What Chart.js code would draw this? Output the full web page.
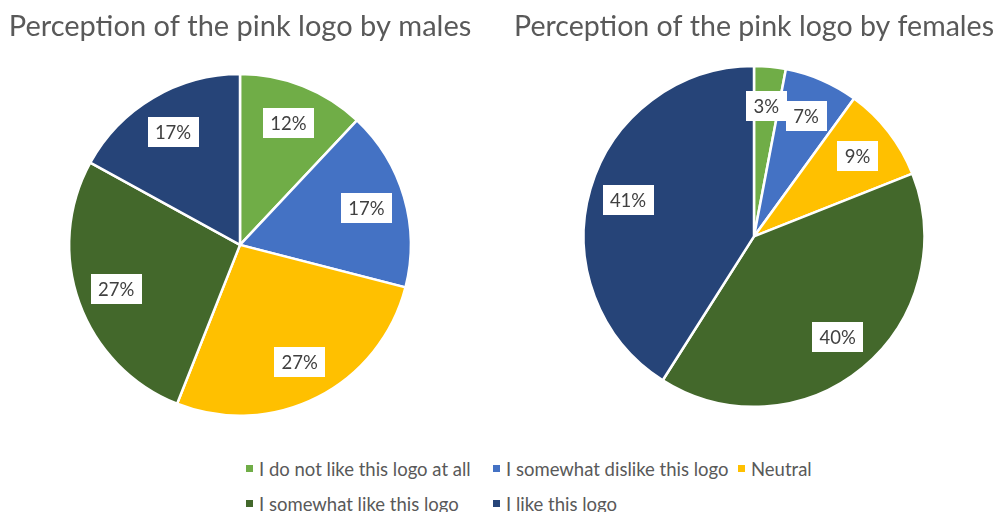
<!DOCTYPE html>
<html>
<head>
<meta charset="utf-8">
<title>Perception of the pink logo</title>
<script src="https://cdn.jsdelivr.net/npm/chart.js@4.4.1/dist/chart.umd.min.js"></script>
<style>
  html, body { margin: 0; padding: 0; background: #fff; }
  #wrap { position: relative; width: 998px; height: 512px; overflow: hidden; font-family: Lato, "Open Sans", sans-serif; }
  canvas { position: absolute; top: 0; }
  #malesChart { left: 0; }
  #femalesChart { left: 514px; }
  #legend { position: absolute; left: 246px; top: 451px; display: grid; grid-template-columns: 247px 245px auto; }
  .item { display: flex; align-items: center; height: 35px; color: #595959; font-size: 18.5px; white-space: nowrap; }
  .swatch { width: 7px; height: 7px; margin-right: 6px; flex: none; }
</style>
</head>
<body>
<div id="wrap">
  <!-- the pie fills whatever is left below the title -->
  <canvas id="malesChart" width="480" height="417"></canvas>
  <canvas id="femalesChart" width="480" height="408"></canvas>
  <div id="legend"></div>
</div>
<script>
  const categories = [
    'I do not like this logo at all',
    'I somewhat dislike this logo',
    'Neutral',
    'I somewhat like this logo',
    'I like this logo'
  ];
  const malesPct = [12, 17, 27, 27, 17];
  const femalesPct = [3, 7, 9, 40, 41];
  const sliceColors = ['#70AD47', '#4472C4', '#FFC000', '#43682B', '#264478'];

  const FONT = 'Lato, "Open Sans", sans-serif';

  // white boxed percentage labels inside each slice
  const boxedLabels = {
    id: 'boxedLabels',
    afterDatasetsDraw(chart, args, opts) {
      const ctx = chart.ctx;
      const meta = chart.getDatasetMeta(0);
      const values = chart.data.datasets[0].data;
      ctx.save();
      ctx.font = '18.5px ' + FONT;
      ctx.textAlign = 'center';
      ctx.textBaseline = 'middle';
      meta.data.forEach((arc, i) => {
        const p = arc.getProps(['x', 'y', 'startAngle', 'endAngle', 'outerRadius'], true);
        const mid = (p.startAngle + p.endAngle) / 2;
        const r = p.outerRadius * opts.offset;
        const x = p.x + Math.cos(mid) * r;
        const y = p.y + Math.sin(mid) * r;
        const text = values[i] + '%';
        const w = Math.round(ctx.measureText(text).width + 15);
        const h = 30;
        ctx.fillStyle = '#fff';
        ctx.fillRect(Math.round(x - w / 2), Math.round(y - h / 2), w, h);
        ctx.fillStyle = '#404040';
        ctx.fillText(text, x, y + 1);
      });
      ctx.restore();
    }
  };

  function makePie(id, title, values, titleGap) {
    new Chart(document.getElementById(id), {
      type: 'pie',
      data: {
        labels: categories,
        datasets: [{ data: values, backgroundColor: sliceColors, borderColor: '#fff', borderWidth: 2.5 }]
      },
      options: {
        responsive: false,
        animation: false,
        layout: { padding: 0 },
        plugins: {
          legend: { display: false },
          tooltip: { enabled: false },
          title: {
            display: true,
            text: title,
            color: '#595959',
            font: { family: FONT, size: 29, weight: 'normal', lineHeight: 1.2 },
            padding: { top: 9, bottom: titleGap }
          },
          boxedLabels: { offset: 0.77 }
        }
      },
      plugins: [boxedLabels]
    });
  }

  makePie('malesChart', 'Perception of the pink logo by males', malesPct, 29);
  makePie('femalesChart', 'Perception of the pink logo by females', femalesPct, 21);

  // shared legend below both pies
  const legend = document.getElementById('legend');
  categories.forEach((name, i) => {
    const item = document.createElement('div');
    item.className = 'item';
    const sw = document.createElement('span');
    sw.className = 'swatch';
    sw.style.background = sliceColors[i];
    item.appendChild(sw);
    item.appendChild(document.createTextNode(name));
    legend.appendChild(item);
  });
</script>
</body>
</html>
